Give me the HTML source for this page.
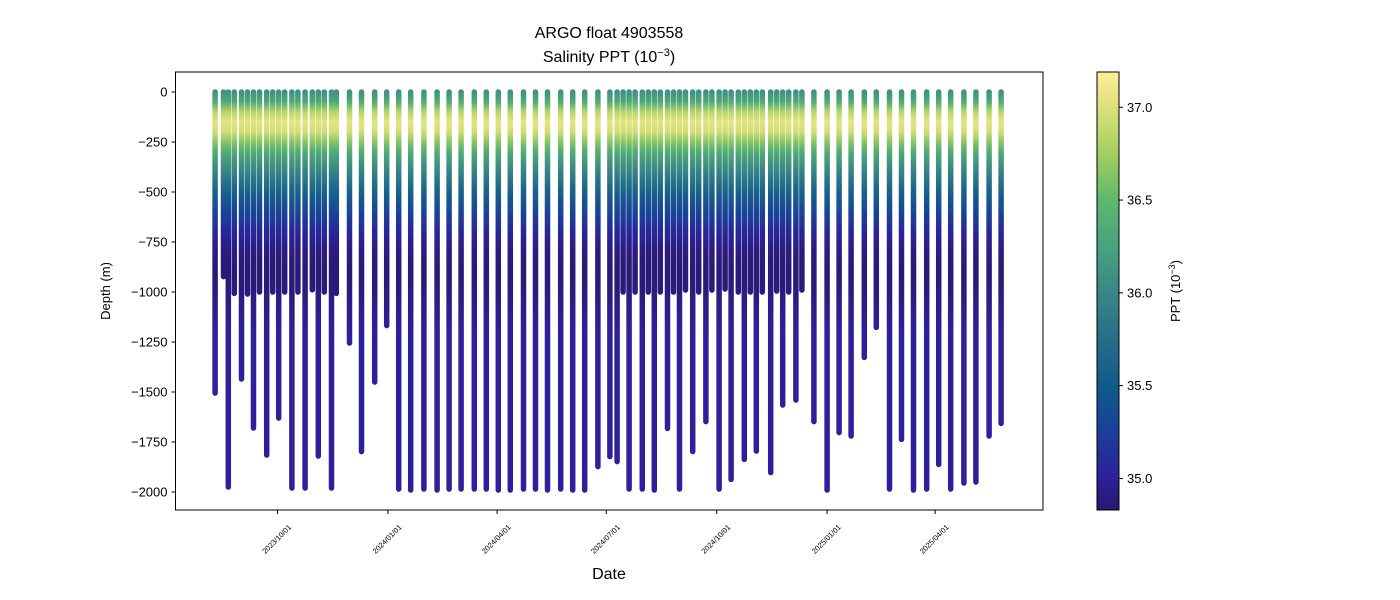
<!DOCTYPE html>
<html><head><meta charset="utf-8"><style>
html,body{margin:0;padding:0;background:#fff;}
svg{display:block;font-family:"Liberation Sans","DejaVu Sans",sans-serif;}
</style></head><body>
<svg id="chart" width="1400" height="600" viewBox="0 0 1400 600">
<defs>
<linearGradient id="cmap" x1="0" y1="1" x2="0" y2="0">
<stop offset="0" stop-color="#29186b"/><stop offset="0.07" stop-color="#2e1f9a"/>
<stop offset="0.18" stop-color="#1a409a"/><stop offset="0.28" stop-color="#0f5a8c"/>
<stop offset="0.39" stop-color="#276d89"/><stop offset="0.5" stop-color="#3a8887"/>
<stop offset="0.6" stop-color="#46a37e"/><stop offset="0.71" stop-color="#5fb86d"/>
<stop offset="0.81" stop-color="#a0cf5f"/><stop offset="0.92" stop-color="#dde07a"/>
<stop offset="1" stop-color="#fdee99"/>
</linearGradient>
</defs>
<g id="plot"></g>
<text x="609" y="38" font-size="16" text-anchor="middle">ARGO float 4903558</text>
<text x="609" y="62" font-size="16" text-anchor="middle">Salinity PPT (10<tspan dy="-6" font-size="11">−3</tspan><tspan dy="6">)</tspan></text>
<text x="609" y="579" font-size="16" text-anchor="middle">Date</text>
<text transform="translate(110,291) rotate(-90)" font-size="13" text-anchor="middle">Depth (m)</text>
<text transform="translate(1180,291) rotate(-90)" font-size="13" text-anchor="middle">PPT (10<tspan dy="-5" font-size="9">−3</tspan><tspan dy="5">)</tspan></text>
</svg>
<script>
const profileDays = [-52,-45,-41,-36,-30,-25,-20,-15,-9,-4,1,6,12,17,23,29,34,39,45,49,60,70,81,91,101,111,122,133,143,153,164,174,184,194,205,215,225,236,246,256,267,277,283,288,293,298,304,309,314,319,325,330,335,340,346,351,357,362,368,373,378,384,389,394,399,404,411,416,421,426,432,437,447,458,468,478,489,499,510,520,530,541,551,561,572,582,593,603];
const profileMaxDepth = [1505,923,1975,1007,1435,1010,1680,1000,1815,1000,1630,1000,1980,1000,1980,989,1820,1000,1980,1007,1255,1798,1450,1168,1985,1990,1985,1990,1985,1985,1985,1985,1990,1990,1985,1985,1990,1985,1990,1990,1873,1823,1848,1000,1985,1000,1985,1000,1990,1000,1682,1000,1985,990,1798,1000,1648,990,1985,985,1937,1000,1837,1000,1795,1000,1903,995,1565,1000,1540,990,1648,1990,1703,1720,1327,1177,1985,1737,1990,1985,1862,1985,1955,1950,1720,1657];
const salDepths = [0,50,100,150,200,250,300,400,500,600,700,800,900,1000,1200,2000];
const salValues = [36.1,36.35,36.85,37.05,36.95,36.65,36.35,35.95,35.6,35.3,35.05,34.9,34.87,34.9,35.0,35.0];
const yTicks = [0,-250,-500,-750,-1000,-1250,-1500,-1750,-2000];
const xTickDays = [0,92,183,274,366,458,548];
const xTickLabels = ["2023/10/01","2024/01/01","2024/04/01","2024/07/01","2024/10/01","2025/01/01","2025/04/01"];
const cbTicks = [35.0,35.5,36.0,36.5,37.0];

const NS="http://www.w3.org/2000/svg";
const svg=document.getElementById('chart'), plot=document.getElementById('plot');
const X0=175.5,X1=1043,Y0=72,Y1=510;
const xs=d=>277.5+d*1.2;
const ys=v=>92+(-v)*0.2;
const vmin=34.83,vmax=37.19, CB0=1097,CB1=1119;
const cs=v=>Y1-(v-vmin)/(vmax-vmin)*(Y1-Y0);
function mk(tag,attrs,parent){const e=document.createElementNS(NS,tag);for(const k in attrs)e.setAttribute(k,attrs[k]);(parent||svg).appendChild(e);return e;}

const grad=mk('linearGradient',{id:'prof',gradientUnits:'userSpaceOnUse',x1:0,x2:0,y1:ys(0),y2:ys(-2000)},svg.querySelector('defs'));
const cstops=[[0,[41,24,107]],[0.07,[46,31,154]],[0.18,[26,64,154]],[0.28,[15,90,140]],[0.39,[39,109,137]],[0.5,[58,136,135]],[0.6,[70,163,126]],[0.71,[95,184,109]],[0.81,[160,207,95]],[0.92,[221,224,122]],[1,[253,238,153]]];
function cmap(v){let t=Math.max(0,Math.min(1,(v-vmin)/(vmax-vmin)));for(let i=1;i<cstops.length;i++){if(t<=cstops[i][0]){const a=cstops[i-1],b=cstops[i],f=(t-a[0])/(b[0]-a[0]);const c=a[1].map((x,j)=>Math.round(x+(b[1][j]-x)*f));return `rgb(${c})`;}}return 'rgb(253,238,153)';}
salDepths.forEach((d,i)=>{mk('stop',{offset:d/2000,'stop-color':cmap(salValues[i])},grad);});

mk('rect',{x:X0,y:Y0,width:X1-X0,height:Y1-Y0,fill:'#fff'},plot);
profileDays.forEach((d,i)=>{
  const l=mk('line',{x1:xs(d),x2:xs(d),y1:ys(0),y2:ys(-profileMaxDepth[i]),stroke:'url(#prof)','stroke-width':5.5,'stroke-linecap':'round'},plot);
  
  
});
const frame=mk('rect',{x:X0,y:Y0,width:X1-X0,height:Y1-Y0,fill:'none',stroke:'#000','stroke-width':1},plot);



yTicks.forEach(v=>{
  const y=ys(v);
  mk('line',{x1:X0-4,x2:X0,y1:y,y2:y,stroke:'#000'});
  const t=mk('text',{x:X0-8,y:y+4.5,'font-size':13,'text-anchor':'end'});
  t.textContent=v===0?'0':'−'+(-v);
  
  
});
xTickDays.forEach((d,i)=>{
  const x=xs(d);
  mk('line',{x1:x,x2:x,y1:Y1,y2:Y1+4,stroke:'#000'});
  const t=mk('text',{transform:`translate(${x+1},${Y1+31}) rotate(-45)`,'font-size':7.5,'text-anchor':'middle'});
  t.textContent=xTickLabels[i];
  
  
});

const cb=mk('rect',{x:CB0,y:Y0,width:CB1-CB0,height:Y1-Y0,fill:'url(#cmap)',stroke:'#000','stroke-width':1});


cbTicks.forEach(v=>{
  const y=cs(v);
  mk('line',{x1:CB1,x2:CB1+4,y1:y,y2:y,stroke:'#000'});
  const t=mk('text',{x:CB1+8,y:y+4.5,'font-size':13});
  t.textContent=v.toFixed(1);
  
  
});
</script>
</body></html>
